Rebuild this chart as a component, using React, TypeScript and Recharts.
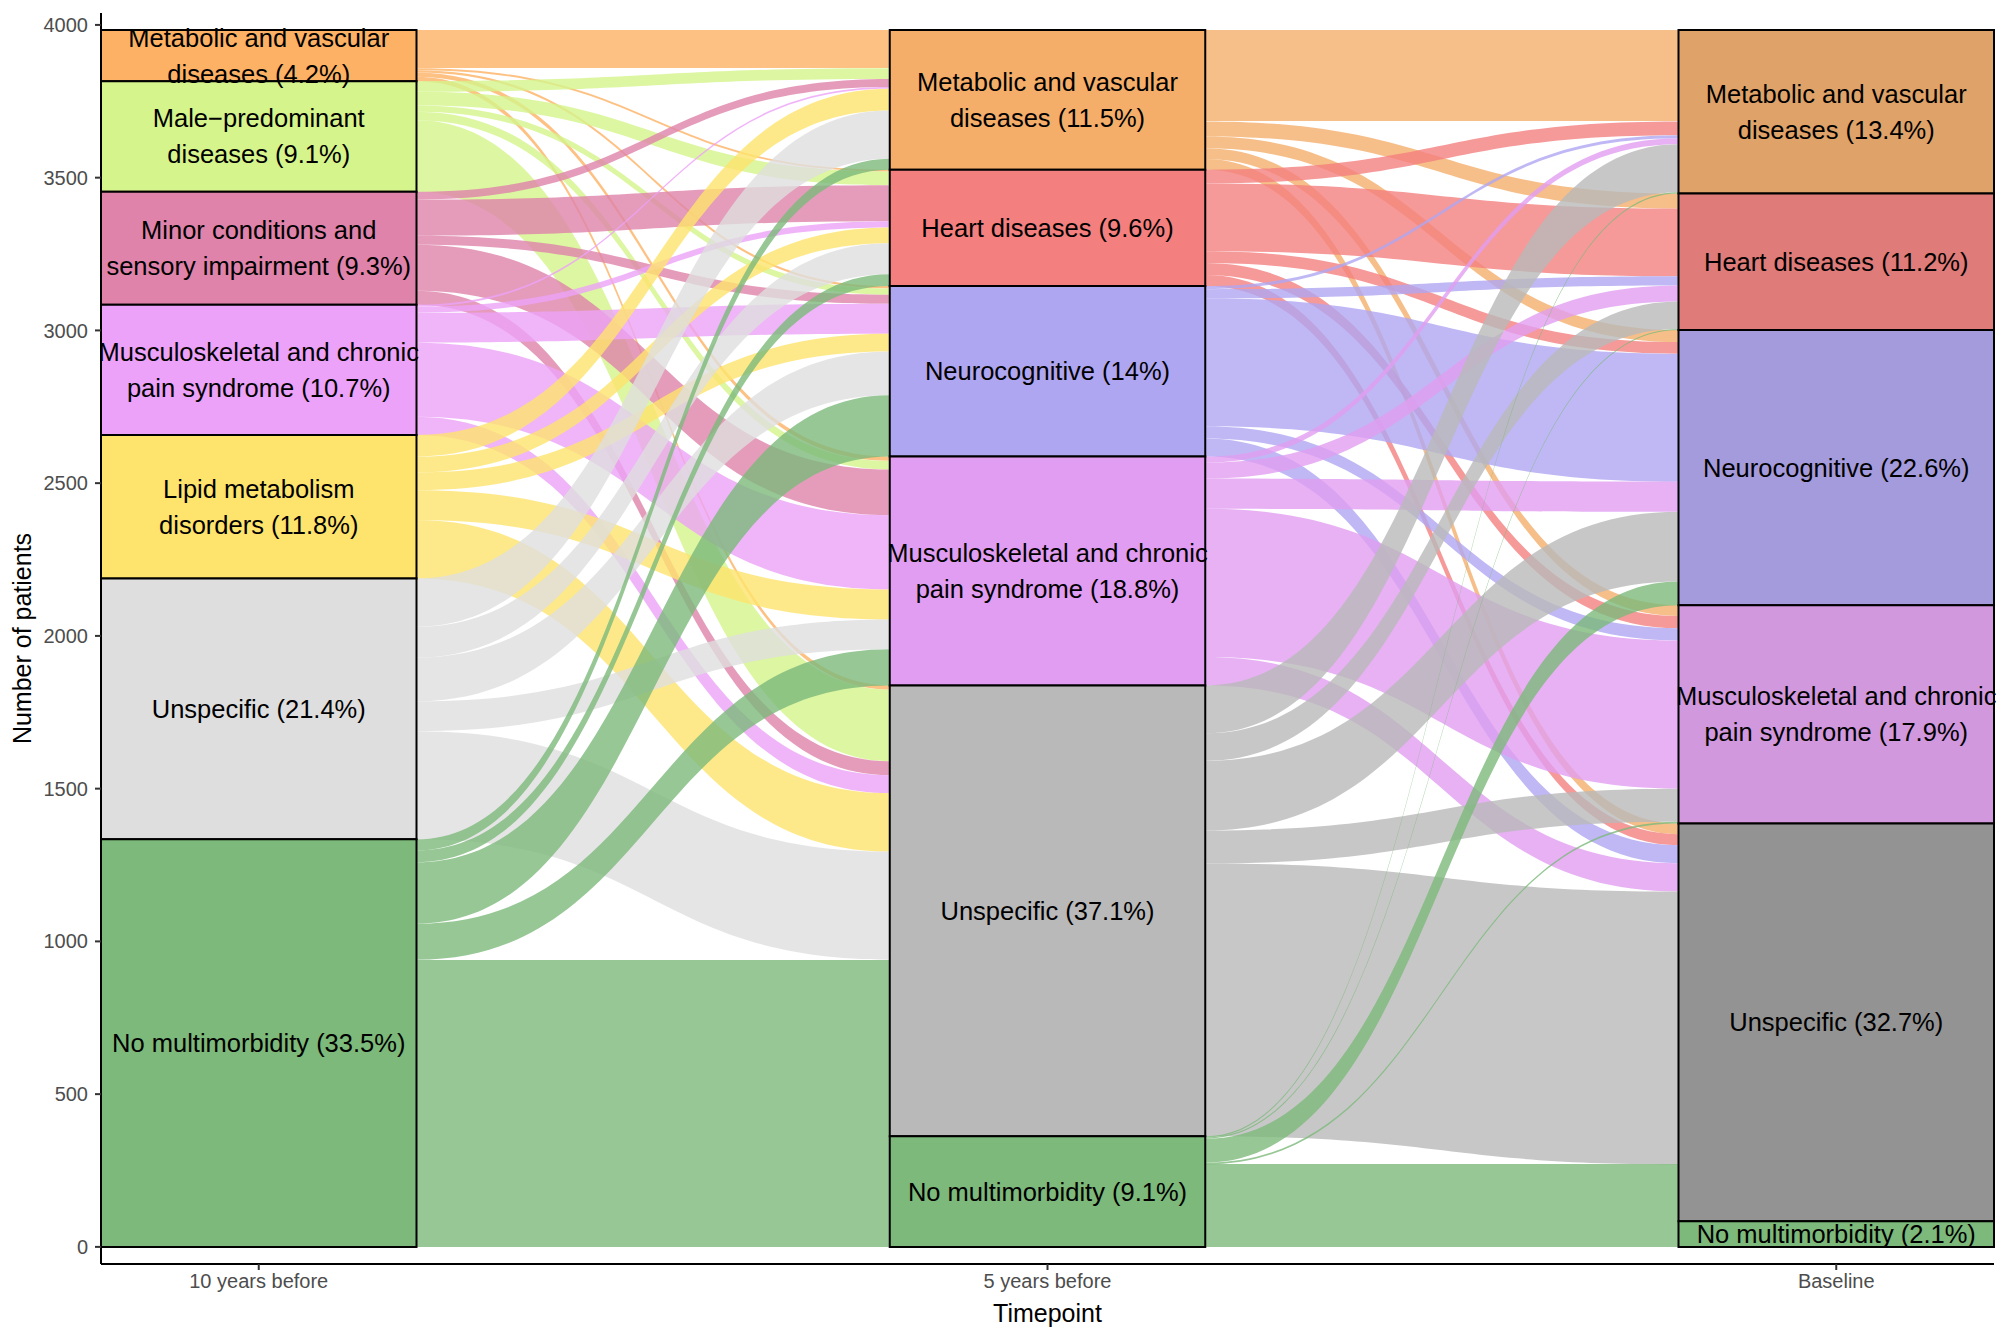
import React from "react";
import { ComposedChart, Area, XAxis, YAxis, ReferenceArea, Label } from "recharts";

const timepoints = ["10 years before", "5 years before", "Baseline"];

// stratum labels, top to bottom
const labels10y = [
  ["Metabolic and vascular", "diseases (4.2%)"],
  ["Male\u2212predominant", "diseases (9.1%)"],
  ["Minor conditions and", "sensory impairment (9.3%)"],
  ["Musculoskeletal and chronic", "pain syndrome (10.7%)"],
  ["Lipid metabolism", "disorders (11.8%)"],
  ["Unspecific (21.4%)"],
  ["No multimorbidity (33.5%)"],
];
const labels5y = [
  ["Metabolic and vascular", "diseases (11.5%)"],
  ["Heart diseases (9.6%)"],
  ["Neurocognitive (14%)"],
  ["Musculoskeletal and chronic", "pain syndrome (18.8%)"],
  ["Unspecific (37.1%)"],
  ["No multimorbidity (9.1%)"],
];
const labelsBase = [
  ["Metabolic and vascular", "diseases (13.4%)"],
  ["Heart diseases (11.2%)"],
  ["Neurocognitive (22.6%)"],
  ["Musculoskeletal and chronic", "pain syndrome (17.9%)"],
  ["Unspecific (32.7%)"],
  ["No multimorbidity (2.1%)"],
];

const colors10y = ["#FDB164", "#D5F48B", "#DF83AA", "#ECA2F8", "#FEE36D", "#DEDEDE", "#7CB97A"];
const colors5y = ["#F4AE6A", "#F47F7F", "#AFA6F2", "#E19DF1", "#B9B9B9", "#7CB97A"];
const colorsBase = ["#DFA268", "#DF7B79", "#A49BDD", "#D198DE", "#939393", "#7CB97A"];

// patients going from each 10-years-before group (rows) to each 5-years-before group (cols)
const flows10to5 = [
  [125, 6, 8, 14, 14, 0],
  [35, 45, 20, 28, 234, 0],
  [26, 118, 30, 150, 46, 0],
  [6, 20, 98, 243, 59, 0],
  [71, 52, 58, 98, 191, 0],
  [158, 101, 143, 98, 354, 0],
  [36, 39, 201, 118, 578, 362],
];
// 5 years before (rows) -> baseline (cols)
const flows5toBase = [
  [299, 49, 39, 35, 35, 0],
  [45, 222, 38, 40, 36, 0],
  [10, 30, 419, 40, 59, 0],
  [20, 52, 99, 485, 93, 0],
  [157, 90, 228, 108, 893, 0],
  [4, 4, 78, 6, 186, 84],
];

const yTicks = [0, 500, 1000, 1500, 2000, 2500, 3000, 3500, 4000];

const BAR = 0.2; // half width of a stratum, in x units

const sum = (a: number[]) => a.reduce((s, v) => s + v, 0);
const rowSums = (m: number[][]) => m.map(sum);
const colSums = (m: number[][]) => m[0].map((_, j) => sum(m.map((r) => r[j])));

function stack(sizes: number[]): [number, number][] {
  let top = sum(sizes);
  return sizes.map((s) => {
    const r: [number, number] = [top - s, top];
    top -= s;
    return r;
  });
}

type Column = { x: number; strata: [number, number][]; labels: string[][]; colors: string[] };

const columns: Column[] = [
  { x: 1, strata: stack(rowSums(flows10to5)), labels: labels10y, colors: colors10y },
  { x: 2, strata: stack(colSums(flows10to5)), labels: labels5y, colors: colors5y },
  { x: 3, strata: stack(colSums(flows5toBase)), labels: labelsBase, colors: colorsBase },
];

type Flow = { key: string; color: string; rowA: number; rowB: number; from: number[]; to: number[] };

function buildFlows(m: number[][], a: Column, b: Column, id: string, rowA: number, rowB: number) {
  const srcTop = a.strata.map((s) => s[1]);
  const dstTop = b.strata.map((s) => s[1]);
  const out: Flow[] = [];
  m.forEach((row, i) =>
    row.forEach((v, j) => {
      if (!v) return;
      out.push({
        key: `${id}_${i}_${j}`,
        color: a.colors[i],
        rowA,
        rowB,
        from: [srcTop[i] - v, srcTop[i]],
        to: [dstTop[j] - v, dstTop[j]],
      });
      srcTop[i] -= v;
      dstTop[j] -= v;
    })
  );
  return out;
}

const flows = [
  ...buildFlows(flows10to5, columns[0], columns[1], "a", 0, 1),
  ...buildFlows(flows5toBase, columns[1], columns[2], "b", 2, 3),
];

const flowRows: Record<string, any>[] = [1 + BAR, 2 - BAR, 2 + BAR, 3 - BAR].map((x) => ({ x }));
flows.forEach((f) => {
  flowRows[f.rowA][f.key] = f.from;
  flowRows[f.rowB][f.key] = f.to;
});

// flat ribbons: no anti-aliased seam between neighbours
const isFlat = (f: Flow) => f.from[0] === f.to[0] && f.from[1] === f.to[1];

export default function App() {
  return (
    <div style={{ fontFamily: '"Liberation Sans", Arial, sans-serif', background: "#fff" }}>
      <style>{"body{margin:0}"}</style>
      <ComposedChart width={2008} height={1339} data={flowRows} margin={{ top: 13, right: 14, bottom: 0, left: 0 }}>
        <XAxis
          dataKey="x"
          type="number"
          domain={[0.8, 3.2]}
          ticks={[1, 2, 3]}
          allowDataOverflow
          tickFormatter={(v: number) => timepoints[Math.round(v) - 1]}
          height={75}
          tick={{ fontSize: 20, fill: "#4D4D4D" }}
          tickSize={6}
          tickMargin={4}
          tickLine={{ stroke: "#333", strokeWidth: 2 }}
          axisLine={{ stroke: "#000", strokeWidth: 2 }}
        >
          <Label value="Timepoint" position="center" dy={12} fontSize={25} fill="#000" />
        </XAxis>
        <YAxis
          type="number"
          domain={[-56, 4039]}
          ticks={yTicks}
          allowDataOverflow
          width={101}
          tick={{ fontSize: 20, fill: "#4D4D4D" }}
          tickSize={6}
          tickMargin={7}
          tickLine={{ stroke: "#333", strokeWidth: 2 }}
          axisLine={{ stroke: "#000", strokeWidth: 2 }}
        >
          <Label value="Number of patients" angle={-90} position="center" dx={-28} fontSize={25} fill="#000" />
        </YAxis>
        {flows.map((f) => (
          <Area
            key={f.key}
            dataKey={f.key}
            type="bumpX"
            stroke="none"
            fill={f.color}
            fillOpacity={0.8}
            shapeRendering={isFlat(f) ? "crispEdges" : undefined}
            dot={false}
            activeDot={false}
            isAnimationActive={false}
          />
        ))}
        {columns.map((c) =>
          c.strata.map(([lo, hi], i) => (
            <ReferenceArea
              key={`${c.x}-${i}`}
              x1={c.x - BAR}
              x2={c.x + BAR}
              y1={lo}
              y2={hi}
              fill={c.colors[i]}
              fillOpacity={1}
              stroke="#000"
              strokeWidth={2}
              ifOverflow="visible"
            >
              {c.labels[i].map((line, k, arr) => (
                <Label
                  key={k}
                  value={line}
                  position="center"
                  dy={(k - (arr.length - 1) / 2) * 36}
                  fontSize={25.5}
                  fill="#000"
                />
              ))}
            </ReferenceArea>
          ))
        )}
      </ComposedChart>
    </div>
  );
}
